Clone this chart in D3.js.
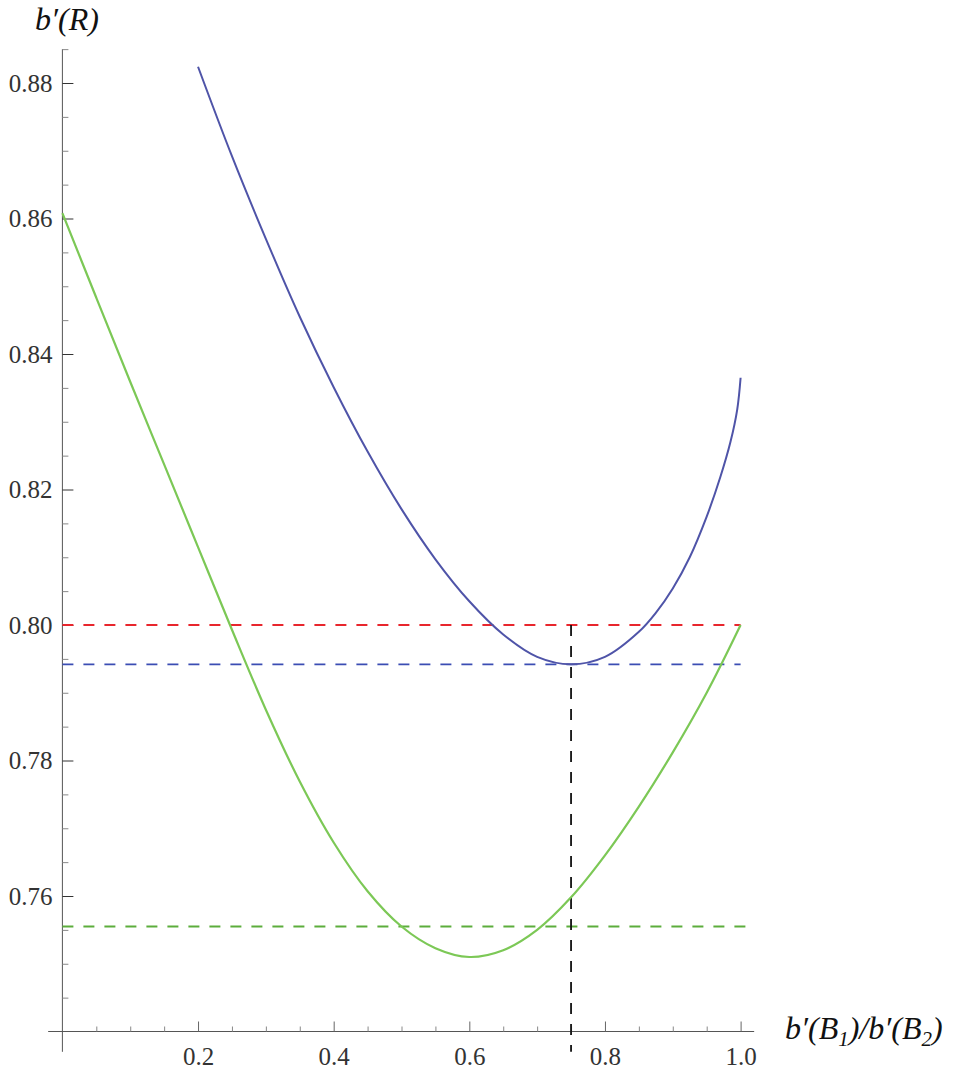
<!DOCTYPE html>
<html>
<head>
<meta charset="utf-8">
<script src="https://cdn.jsdelivr.net/npm/d3@7"></script>
<style>
  body { margin: 0; background: #fff; }
  text { font-family: "Liberation Serif", "Times New Roman", serif; }
</style>
</head>
<body>
<div id="chart"></div>
<script>
"use strict";

// values
const blueX = [0.20, 0.25, 0.30, 0.35, 0.40, 0.45, 0.50, 0.55, 0.60, 0.65, 0.70, 0.75, 0.80, 0.85, 0.875, 0.90, 0.925, 0.95, 0.97, 0.985, 0.995, 1.00];
const blueY = [0.8824, 0.8692, 0.8570, 0.8455, 0.8351, 0.8256, 0.8171, 0.8097, 0.8035, 0.7986, 0.7953, 0.7942, 0.7953, 0.7990, 0.8018, 0.8054, 0.8100, 0.8160, 0.8218, 0.8270, 0.8318, 0.8365];

const greenX = [0.00, 0.05, 0.10, 0.15, 0.20, 0.25, 0.30, 0.35, 0.40, 0.45, 0.50, 0.55, 0.60, 0.65, 0.70, 0.75, 0.80, 0.85, 0.90, 0.95, 1.00];
const greenY = [0.8608, 0.8483, 0.8359, 0.8237, 0.8115, 0.7993, 0.7875, 0.7769, 0.7679, 0.7607, 0.7555, 0.7523, 0.7510, 0.7520, 0.7550, 0.7598, 0.7660, 0.7732, 0.7812, 0.7900, 0.8000];

// horizontal reference levels and the vertical marker
const refLevels = [0.8000, 0.7942, 0.7555];
const refColors = ["#e8262d", "#3b4db3", "#5cad3c"];
const refEnds = [1.0, 1.0, 1.02];
const markerX = 0.75;

const xMajorTicks = [0.2, 0.4, 0.6, 0.8, 1.0];
const yMajorTicks = [0.76, 0.78, 0.80, 0.82, 0.84, 0.86, 0.88];

const width = 968, height = 1074;

const svg = d3.select("#chart")
    .append("svg")
    .attr("width", width)
    .attr("height", height);

const x = d3.scaleLinear().domain([0, 1]).range([62.4, 740.6]);
const y = d3.scaleLinear().domain([0.74, 0.88]).range([1031.5, 83]);

const xAxisY = y(0.74);
const yAxisX = x(0);

// axis lines
svg.append("line")
    .attr("x1", x(-0.021)).attr("x2", x(1.02))
    .attr("y1", xAxisY).attr("y2", xAxisY)
    .attr("stroke", "#555").attr("stroke-width", 1);
svg.append("line")
    .attr("x1", yAxisX).attr("x2", yAxisX)
    .attr("y1", y(0.885)).attr("y2", y(0.737))
    .attr("stroke", "#555").attr("stroke-width", 1);

// minor ticks
const xMinor = d3.range(1, 21).map(i => i * 0.05).filter(v => !xMajorTicks.some(t => Math.abs(t - v) < 1e-9));
const yMinor = d3.range(149, 178).map(i => i * 0.005).filter(v => !yMajorTicks.some(t => Math.abs(t - v) < 1e-9));

svg.append("g")
    .attr("transform", "translate(0," + xAxisY + ")")
    .call(d3.axisBottom(x).tickValues(xMinor).tickSizeInner(-5).tickSizeOuter(0).tickFormat(""))
    .call(g => g.select(".domain").remove())
    .selectAll("line").attr("stroke", "#888");

svg.append("g")
    .attr("transform", "translate(" + yAxisX + ",0)")
    .call(d3.axisLeft(y).tickValues(yMinor).tickSizeInner(-6).tickSizeOuter(0).tickFormat(""))
    .call(g => g.select(".domain").remove())
    .selectAll("line").attr("stroke", "#888");

// major ticks with labels
svg.append("g")
    .attr("transform", "translate(0," + xAxisY + ")")
    .call(d3.axisBottom(x).tickValues(xMajorTicks).tickSizeInner(-10).tickSizeOuter(0)
        .tickPadding(16).tickFormat(d3.format(".1f")))
    .call(g => g.select(".domain").remove())
    .call(g => g.selectAll("line").attr("stroke", "#666"))
    .selectAll("text")
    .attr("fill", "#333")
    .style("font-size", "25px");

svg.append("g")
    .attr("transform", "translate(" + yAxisX + ",0)")
    .call(d3.axisLeft(y).tickValues(yMajorTicks).tickSizeInner(-11).tickSizeOuter(0)
        .tickPadding(10).tickFormat(d3.format(".2f")))
    .call(g => g.select(".domain").remove())
    .call(g => g.selectAll("line").attr("stroke", "#333"))
    .selectAll("text")
    .attr("fill", "#333")
    .style("font-size", "25px");

// dashed reference lines
refLevels.forEach((level, i) => {
    svg.append("line")
        .attr("x1", x(0)).attr("x2", x(refEnds[i]))
        .attr("y1", y(level)).attr("y2", y(level))
        .attr("stroke", refColors[i])
        .attr("stroke-width", 1.8)
        .attr("stroke-dasharray", "11,10");
});

svg.append("line")
    .attr("x1", x(markerX)).attr("x2", x(markerX))
    .attr("y1", y(0.80)).attr("y2", y(0.737))
    .attr("stroke", "#111")
    .attr("stroke-width", 1.8)
    .attr("stroke-dasharray", "11,10");

// curves
const line = d3.line()
    .x(d => x(d[0]))
    .y(d => y(d[1]))
    .curve(d3.curveCatmullRom.alpha(0.5));

svg.append("path")
    .datum(greenX.map((v, i) => [v, greenY[i]]))
    .attr("fill", "none")
    .attr("stroke", "#7cc856")
    .attr("stroke-width", 2.2)
    .attr("d", line);

svg.append("path")
    .datum(blueX.map((v, i) => [v, blueY[i]]))
    .attr("fill", "none")
    .attr("stroke", "#4f54a8")
    .attr("stroke-width", 2)
    .attr("d", line);

// axis titles
svg.append("text")
    .attr("x", 35).attr("y", 30)
    .style("font-size", "32px")
    .style("font-style", "italic")
    .attr("fill", "#111")
    .text("b\u2032(R)");

const xt = svg.append("text")
    .attr("x", 785).attr("y", 1039)
    .style("font-size", "32px")
    .style("font-style", "italic")
    .attr("fill", "#111");
xt.append("tspan").text("b\u2032(B");
xt.append("tspan").attr("dy", 7).style("font-size", "21px").text("1");
xt.append("tspan").attr("dy", -7).text(")/b\u2032(B");
xt.append("tspan").attr("dy", 7).style("font-size", "21px").text("2");
xt.append("tspan").attr("dy", -7).text(")");
</script>
</body>
</html>
